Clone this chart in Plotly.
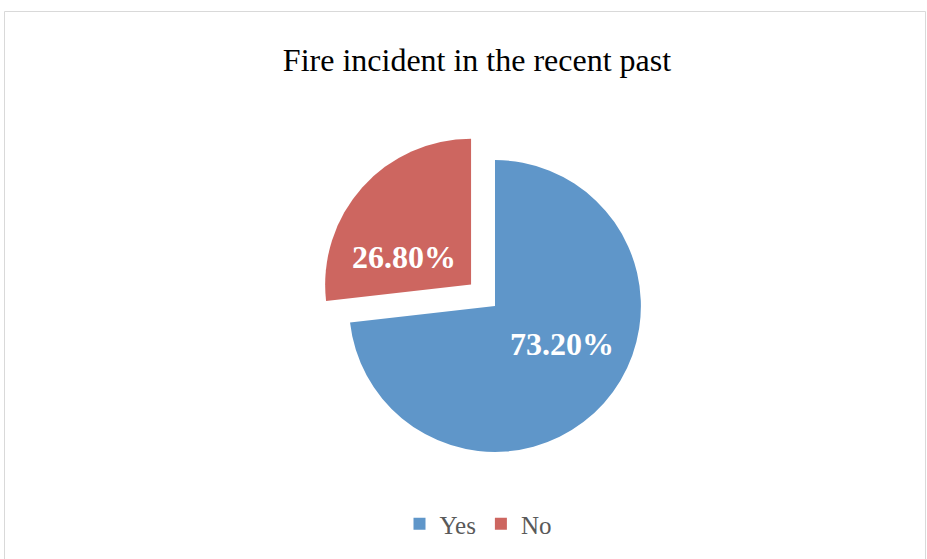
import plotly.graph_objects as go

# Survey responses: fire incident in the recent past
categories = ["Yes", "No"]
shares = [73.20, 26.80]
slice_colors = ["#5F96C9", "#CD6660"]
pulls = [0, 0.22]

W, H = 927, 559

fig = go.Figure(
    go.Pie(
        labels=categories,
        values=shares,
        sort=False,
        direction="clockwise",
        rotation=0,
        pull=pulls,
        marker=dict(colors=slice_colors, line=dict(width=0)),
        textinfo="none",
        domain=dict(x=[317 / W, 673 / W], y=[1 - 484 / H, 1 - 128 / H]),
        hoverinfo="label+percent",
    )
)

# Data labels sit where the slices have room, in bold white serif type
label_spots = [(562, 344), (404, 257)]
annotations = [
    dict(
        text=f"{v:.2f}%",
        x=px / W,
        y=1 - py / H,
        xref="paper",
        yref="paper",
        xanchor="center",
        yanchor="middle",
        showarrow=False,
        font=dict(family="Liberation Serif", size=32, color="white", weight="bold"),
    )
    for v, (px, py) in zip(shares, label_spots)
]

fig.update_layout(
    width=W,
    height=H,
    margin=dict(l=0, r=0, t=0, b=0),
    paper_bgcolor="white",
    plot_bgcolor="white",
    title=dict(
        text="Fire incident in the recent past",
        x=477 / W,
        xanchor="center",
        y=1 - 60 / H,
        yanchor="middle",
        font=dict(family="Liberation Serif", size=32, color="black"),
    ),
    legend=dict(
        orientation="h",
        x=478 / W,
        xanchor="center",
        y=1 - 524 / H,
        yanchor="middle",
        font=dict(family="Liberation Serif", size=25, color="#595959"),
        itemwidth=30,
    ),
    annotations=annotations,
    shapes=[
        dict(
            type="rect",
            xref="paper",
            yref="paper",
            x0=4.5 / W,
            x1=925.5 / W,
            y0=-0.01,
            y1=1 - 11.5 / H,
            line=dict(color="#D9D9D9", width=1),
            fillcolor="rgba(0,0,0,0)",
            layer="below",
        )
    ],
)

fig.write_html("out.html")
